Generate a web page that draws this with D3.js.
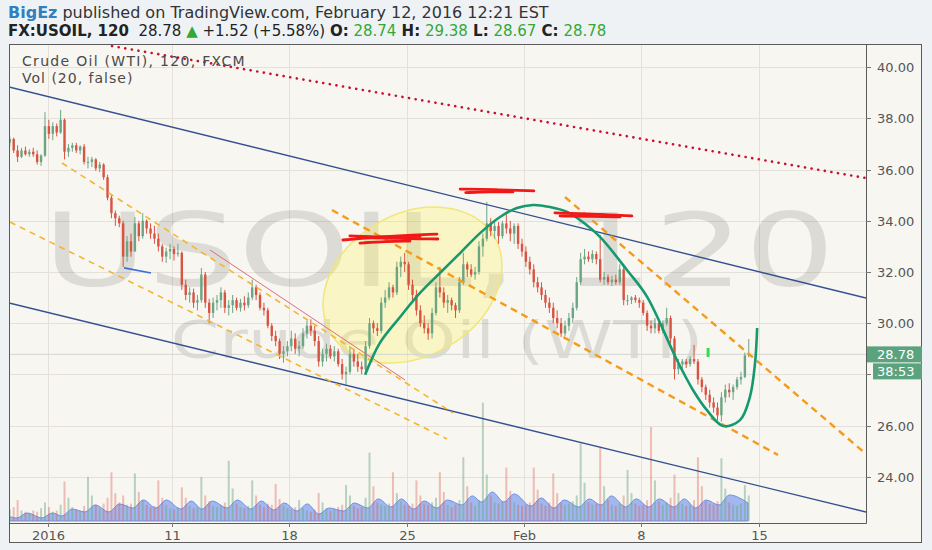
<!DOCTYPE html>
<html>
<head>
<meta charset="utf-8">
<title>Crude Oil (WTI), 120, FXCM</title>
<script src="https://cdn.jsdelivr.net/npm/d3@7"></script>
<style>
  body { margin: 0; background: #eef2f5; }
  svg { display: block; font-family: "DejaVu Sans", Verdana, sans-serif; }
</style>
</head>
<body>
<script>
// ---- data ----
// candles: [high, low, close], open = close of the bar before
var firstOpen = 37.05;
var startDay = -1.7, barsPerDay = 6;

var wk0 = [[37.3,36.9,37.2],[37.25,36.65,36.75],[36.95,36.3,36.5],[36.85,36.45,36.75],[36.9,36.55,36.6],[36.8,36.5,36.7],
  [36.85,36.5,36.6],[36.75,36.2,36.3],[36.6,36.15,36.55],[38.25,36.5,37.7],[37.95,37.2,37.4],[37.85,37.15,37.7]];
var wk1 = [[37.8,37.3,37.45],[38.33,37.4,37.95],[38.0,36.4,36.7],[37.0,36.5,36.85],[37.05,36.7,36.95],[37.05,36.65,36.75],
  [36.95,36.6,36.9],[37.0,36.2,36.3],[36.5,36.05,36.3],[36.5,36.1,36.4],[36.45,35.95,36.05],[36.3,35.9,36.2],
  [36.25,35.6,35.7],[35.8,34.8,34.9],[35.0,34.1,34.3],[34.4,33.8,34.1],[34.2,33.75,33.9],[34.0,32.2,32.6],
  [33.4,32.4,33.2],[33.5,32.6,32.8],[34.15,32.8,33.9],[34.0,33.2,33.4],[34.3,33.3,34.0],[34.05,33.5,33.7],
  [33.9,33.3,33.5],[33.8,33.1,33.3],[33.5,32.8,33.0],[33.1,32.4,32.6],[32.95,32.35,32.8],[33.1,32.5,32.9]];
var wk2 = [[33.0,32.45,32.7],[33.1,32.6,32.75],[32.8,31.3,31.5],[31.7,30.9,31.1],[31.4,30.8,31.2],[31.35,30.6,30.8],
  [31.1,30.5,30.9],[32.16,30.8,31.9],[32.0,30.6,30.8],[30.95,30.0,30.4],[31.0,30.2,30.8],[31.1,30.5,30.9],
  [31.4,30.6,31.2],[31.3,30.4,30.6],[30.9,30.3,30.7],[31.1,30.4,30.9],[31.0,30.5,30.6],[30.95,30.45,30.8],
  [31.05,30.5,30.7],[31.2,30.6,31.0],[31.7,30.9,31.4],[31.5,30.9,31.1],[31.2,30.5,30.6],[30.8,30.3,30.5],
  [30.6,29.8,29.9],[30.0,29.3,29.5],[29.7,29.1,29.3],[29.4,28.6,28.8],[29.1,28.45,28.9],[29.3,28.7,29.1]];
var wk3 = [[29.7,28.9,29.4],[29.6,28.8,29.0],[29.3,28.7,29.1],[29.8,29.0,29.6],[30.1,29.4,29.9],[30.15,29.5,29.7],
  [29.9,29.1,29.3],[29.5,28.3,28.5],[29.0,28.3,28.8],[29.2,28.5,29.0],[29.15,28.6,28.7],[29.1,28.5,28.9],
  [29.0,28.3,28.4],[28.6,27.8,28.0],[28.3,27.6,28.1],[29.1,28.0,28.8],[29.0,28.3,28.5],[28.8,28.1,28.3],
  [28.5,28.0,28.2],[29.3,28.1,29.1],[30.2,29.0,30.0],[30.1,29.6,29.8],[30.0,29.5,29.7],[31.0,29.6,30.8],
  [31.3,30.6,31.0],[31.6,30.9,31.4],[31.5,31.0,31.2],[32.4,31.1,32.2],[32.6,31.8,32.4],[32.75,32.0,32.3]];
var wk4 = [[32.4,31.3,31.5],[31.7,30.9,31.1],[31.3,30.3,30.5],[30.7,29.85,30.0],[30.3,29.6,29.8],[30.0,29.35,29.6],
  [30.6,29.4,30.4],[31.6,30.3,31.4],[32.2,31.0,31.2],[31.4,30.6,30.8],[31.1,30.4,30.9],[31.0,30.5,30.7],
  [30.8,30.2,30.5],[31.8,30.4,31.6],[32.75,31.5,32.3],[32.4,31.8,32.1],[32.3,31.8,31.9],[32.2,31.7,32.0],
  [33.2,31.9,33.0],[33.5,32.6,33.3],[34.74,33.2,33.9],[34.1,33.4,33.6],[34.0,33.3,33.8],[33.95,33.1,33.4],
  [34.0,33.3,33.9],[34.35,33.5,33.7],[34.0,33.2,33.5],[33.9,33.1,33.8],[33.9,32.9,33.1],[33.3,32.6,32.8]];
var wk5 = [[33.0,32.2,32.4],[32.6,31.9,32.1],[32.3,31.4,31.6],[31.8,31.2,31.4],[31.6,30.9,31.1],[31.3,30.6,30.8],
  [31.0,30.4,30.6],[30.8,30.0,30.2],[30.5,29.8,30.0],[30.2,29.46,29.6],[30.1,29.5,29.9],[30.4,29.7,30.2],
  [30.8,30.0,30.6],[31.8,30.5,31.6],[32.75,31.5,32.5],[32.9,32.3,32.6],[32.8,32.4,32.5],[32.85,32.35,32.7],
  [32.8,32.3,32.5],[33.45,31.6,31.7],[32.0,31.5,31.8],[31.9,31.5,31.6],[31.85,31.45,31.7],[31.9,31.5,31.6],
  [32.3,31.5,32.1],[32.2,30.7,30.9],[31.1,30.7,30.9],[31.05,30.75,31.0],[31.1,30.8,30.9],[31.0,30.6,30.8]];
var wk6 = [[30.9,30.3,30.4],[30.5,29.7,29.9],[30.1,29.6,29.8],[30.2,29.6,30.0],[30.1,29.6,29.7],[30.1,29.6,30.0],
  [30.6,29.9,30.2],[30.3,29.2,29.4],[29.5,27.8,28.2],[28.6,28.0,28.4],[28.6,28.2,28.5],[28.6,28.25,28.4],
  [28.7,28.3,28.6],[29.15,28.4,28.5],[28.6,27.6,27.8],[27.9,27.3,27.5],[27.6,27.0,27.2],[27.4,26.7,26.9],
  [27.1,26.5,26.7],[26.9,26.2,26.4],[27.3,26.15,27.1],[27.6,26.9,27.4],[27.65,27.1,27.3],[27.6,27.0,27.5],
  [27.9,27.4,27.8],[28.1,27.6,27.9],[28.85,27.85,28.74],[29.38,28.67,28.78]];

// volume per bar, same order
var vol0 = [10,12,18,9,8,7,9,8,11,16,12,8];
var vol1 = [9,14,34,20,12,10,9,13,38,22,14,11,15,20,42,24,16,22,14,15,41,25,18,14,12,13,35,20,14,11];
var vol2 = [10,12,29,20,13,11,12,38,22,17,13,12,14,16,52,28,15,12,11,13,35,22,14,12,15,14,32,19,13,11];
var vol3 = [10,12,18,11,9,8,10,24,16,11,9,10,12,14,31,22,13,11,12,20,59,30,16,14,13,15,42,24,17,14];
var vol4 = [13,15,35,22,15,14,16,20,42,25,14,12,14,18,55,30,16,13,18,102,40,22,16,15,17,46,26,16,14,13];
var vol5 = [14,16,46,27,15,13,16,41,24,16,14,15,17,22,67,33,16,14,15,63,30,18,14,13,15,22,44,24,15,13];
var vol6 = [14,18,81,35,17,14,16,20,40,24,15,13,14,18,55,30,17,15,14,17,54,28,16,14,13,15,31,22];

// Vol (20) average, the blue band
var maDays = [-1.7,-1.32,-0.87,-0.25,0.2,0.6,1.05,1.58,2.03,2.61,3.06,3.63,4.08,4.61,5.06,5.67,6.12,6.57,7.02,7.64,
  8.09,8.66,9.11,9.64,10.09,10.62,11.07,11.55,12.0,12.62,13.07,13.64,14.09,14.63,15.08,15.6,16.05,16.59,17.04,17.65,
  18.1,18.5,18.95,19.44,19.89,20.59,21.04,21.57,22.02,22.64,23.09,23.58,24.03,24.64,25.09,25.62,26.07,26.69,27.14,27.62,
  28.07,28.61,29.06,29.85];
var maVals = [4.3,2.6,6.9,2.6,6.9,4.3,10.3,7.8,13.8,7.8,14.7,11.2,18.1,11.2,18.1,10.3,17.2,10.3,17.2,11.2,
  18.1,10.3,17.2,9.5,15.5,8.6,14.7,6.0,11.2,8.6,15.5,11.2,19.0,12.1,19.0,10.3,17.2,11.2,18.1,13.8,
  21.6,16.4,25.0,16.4,23.3,12.9,19.8,11.2,18.1,12.1,19.0,13.8,21.6,12.1,19.0,12.1,19.0,12.1,19.0,11.2,
  18.1,13.8,22.4,15.5];

var timeTickDays = [0, 5.3, 10.3, 15.3, 20.3, 25.3, 30.3];
var timeTickLabels = ["2016", "11", "18", "25", "Feb", "8", "15"];
var priceTicks = [24, 26, 28, 30, 32, 34, 36, 38, 40];

// hand drawings, in [day, price]
var redDotted = [[2.741,40.83],[34.88,35.67]];
var channelTop = [[-1.65,39.23],[34.88,30.98]];
var channelBottom = [[-1.65,30.79],[34.88,22.62]];
var blueStub = [[3.252,32.16],[4.403,31.96]];
var trendA1 = [[0.61,36.26],[17.276,26.49]];
var trendA2 = [[-1.607,33.95],[17.02,25.47]];
var thinRed = [[6.918,32.86],[15.23,27.78]];
var trendB1 = [[12.118,34.42],[31.13,24.85]];
var trendB2 = [[22.05,34.93],[34.88,24.89]];
var arcPts = [[13.53,27.98],[14.16,29.23],[15.02,30.24],[15.87,31.18],[16.72,31.96],[17.58,32.74],[18.43,33.52],
  [19.28,34.15],[20.0,34.5],[20.69,34.62],[21.41,34.54],[22.14,34.35],[22.69,34.03],[23.54,33.37],[24.69,32.08],
  [25.55,31.03],[26.82,28.56],[27.51,27.38],[28.1,26.6],[28.79,25.98],[29.51,26.21],[29.93,27.11],[30.15,28.44],[30.24,29.81]];
var scribbles = [
  [[12.58,33.25],[14.6,33.4],[16.59,33.48]], [[13.18,33.37],[15.0,33.3],[16.63,33.29]],
  [[13.31,33.13],[14.4,33.2],[15.44,33.21]], [[12.88,33.41],[14.3,33.36],[15.87,33.39]],
  [[17.58,35.24],[19.1,35.22],[20.72,35.17]], [[17.82,35.1],[18.8,35.14],[19.83,35.13]],
  [[21.62,34.31],[23.3,34.27],[24.9,34.19]], [[21.84,34.19],[23.1,34.18],[24.4,34.15]]];
var ellipseCenter = [15.55, 31.49];
var greenTick = [28.15, 28.68, 29.03];

// ---- build ----
var W = 932, H = 550;
var pane = {l: 9, t: 44, r: 866, b: 523};
var up = "#6ba583", down = "#d75442";

var weeks = [wk0, wk1, wk2, wk3, wk4, wk5, wk6];
var vols = [vol0, vol1, vol2, vol3, vol4, vol5, vol6];
var bars = [], prev = firstOpen, k = 0;
weeks.forEach(function(wk, w) {
  wk.forEach(function(b, i) {
    bars.push({d: startDay + (k + 0.5) / barsPerDay, o: prev, h: b[0], l: b[1], c: b[2], v: vols[w][i]});
    prev = b[2];
    k++;
  });
});
var last = bars[bars.length - 1];

var x = d3.scaleLinear().domain([-1.65, 34.88]).range([pane.l, pane.r]);
var y = d3.scaleLinear().domain([22.19, 40.91]).range([pane.b, pane.t]);
var yVol = d3.scaleLinear().domain([0, 100]).range([521, 405]);

var svg = d3.select("body").append("svg").attr("width", W).attr("height", H);

svg.append("defs").append("clipPath").attr("id", "clip")
  .append("rect").attr("x", pane.l).attr("y", pane.t)
  .attr("width", pane.r - pane.l).attr("height", pane.b - pane.t);

svg.append("rect").attr("width", W).attr("height", H).attr("fill", "#eef2f5");
svg.append("rect").attr("x", pane.l).attr("y", pane.t).attr("width", 922 - pane.l).attr("height", 543 - pane.t)
  .attr("fill", "#f8f6f1");

// grid
var grid = svg.append("g").attr("stroke", "#e5e1da").attr("stroke-width", 1);
grid.selectAll("line.h").data(priceTicks).enter().append("line")
  .attr("x1", pane.l).attr("x2", pane.r)
  .attr("y1", function(d) { return Math.round(y(d)) + 0.5; })
  .attr("y2", function(d) { return Math.round(y(d)) + 0.5; });
grid.selectAll("line.v").data(timeTickDays).enter().append("line")
  .attr("y1", pane.t).attr("y2", pane.b)
  .attr("x1", function(d) { return Math.round(x(d)) + 0.5; })
  .attr("x2", function(d) { return Math.round(x(d)) + 0.5; });

var plot = svg.append("g").attr("clip-path", "url(#clip)");

// watermark
plot.append("text").attr("transform", "translate(439,286) scale(1.4,1)")
  .attr("text-anchor", "middle").attr("font-size", 102)
  .attr("fill", "#000").attr("fill-opacity", 0.11).text("USOIL, 120");
plot.append("text").attr("transform", "translate(437,358) scale(1.34,1)")
  .attr("text-anchor", "middle").attr("font-size", 52)
  .attr("fill", "#000").attr("fill-opacity", 0.11).text("Crude Oil (WTI)");

// volume average band
var maArea = d3.area().curve(d3.curveMonotoneX)
  .x(function(d, i) { return x(maDays[i]); })
  .y0(yVol(0)).y1(function(d) { return yVol(d); });
plot.append("path").datum(maVals).attr("d", maArea)
  .attr("fill", "#7c9cf0").attr("fill-opacity", 0.7)
  .attr("stroke", "#6f8fe8").attr("stroke-width", 1);

// volume bars
plot.selectAll("rect.vol").data(bars).enter().append("rect")
  .attr("x", function(d) { return x(d.d) - 1; }).attr("width", 2)
  .attr("y", function(d) { return yVol(d.v); })
  .attr("height", function(d) { return yVol(0) - yVol(d.v); })
  .attr("fill", function(d) { return d.c >= d.o ? "rgba(107,165,131,0.45)" : "rgba(215,84,66,0.35)"; });

// yellow ellipse
plot.append("ellipse")
  .attr("transform", "translate(" + x(ellipseCenter[0]) + "," + y(ellipseCenter[1]) + ") rotate(-30.5)")
  .attr("rx", 95).attr("ry", 71)
  .attr("fill", "#fff35c").attr("fill-opacity", 0.3)
  .attr("stroke", "#f1e678").attr("stroke-width", 1.5);

// last price line
plot.append("line").attr("x1", pane.l).attr("x2", pane.r)
  .attr("y1", y(last.c)).attr("y2", y(last.c))
  .attr("stroke", "#d3d6d0").attr("stroke-width", 1);

// candles
plot.selectAll("line.wick").data(bars).enter().append("line")
  .attr("x1", function(d) { return x(d.d); }).attr("x2", function(d) { return x(d.d); })
  .attr("y1", function(d) { return y(d.h); }).attr("y2", function(d) { return y(d.l); })
  .attr("stroke", function(d) { return d.c >= d.o ? up : down; }).attr("stroke-width", 1);
plot.selectAll("rect.body").data(bars).enter().append("rect")
  .attr("x", function(d) { return x(d.d) - 1.2; }).attr("width", 2.4)
  .attr("y", function(d) { return y(Math.max(d.o, d.c)); })
  .attr("height", function(d) { return Math.max(1, Math.abs(y(d.o) - y(d.c))); })
  .attr("fill", function(d) { return d.c >= d.o ? up : down; });

// drawings
var line = d3.line().x(function(p) { return x(p[0]); }).y(function(p) { return y(p[1]); });
function draw(pts, color, width, dash) {
  var p = plot.append("path").attr("d", line(pts)).attr("fill", "none")
    .attr("stroke", color).attr("stroke-width", width);
  if (dash) p.attr("stroke-dasharray", dash);
  return p;
}
draw(channelTop, "#34508f", 1.4);
draw(channelBottom, "#34508f", 1.4);
draw(blueStub, "#3c6fd6", 1.6);
draw(trendA1, "#f4b630", 1.6, "6,5");
draw(trendA2, "#f4b630", 1.6, "6,5");
draw(thinRed, "#e06a7a", 1);
draw(trendB1, "#f59b1a", 2.4, "7,5");
draw(trendB2, "#f59b1a", 2.4, "7,5");
draw(redDotted, "#c8102e", 2.6, "0.1,6.6").attr("stroke-linecap", "round");

plot.append("path").attr("d", line.curve(d3.curveCatmullRom.alpha(0.5))(arcPts))
  .attr("fill", "none").attr("stroke", "#16996f").attr("stroke-width", 2.6);
line.curve(d3.curveLinear);

scribbles.forEach(function(s) {
  plot.append("path").attr("d", line.curve(d3.curveBasis)(s)).attr("fill", "none")
    .attr("stroke", "#f21818").attr("stroke-width", 2.8).attr("stroke-linecap", "round");
});
line.curve(d3.curveLinear);

plot.append("rect").attr("x", x(greenTick[0]) - 1.5).attr("width", 3)
  .attr("y", y(greenTick[2])).attr("height", y(greenTick[1]) - y(greenTick[2]))
  .attr("fill", "#2fe04a");

// frame
svg.append("rect").attr("x", pane.l + 0.5).attr("y", pane.t + 0.5).attr("width", 922 - pane.l - 1)
  .attr("height", 543 - pane.t - 1).attr("fill", "none").attr("stroke", "#5b5b5b");
svg.append("line").attr("x1", pane.r + 0.5).attr("x2", pane.r + 0.5).attr("y1", pane.t).attr("y2", pane.b + 0.5)
  .attr("stroke", "#5b5b5b");
svg.append("line").attr("x1", pane.l).attr("x2", pane.r + 0.5).attr("y1", pane.b + 0.5).attr("y2", pane.b + 0.5)
  .attr("stroke", "#5b5b5b");

// price axis
var ly = y(last.c);
var pa = svg.append("g").attr("font-size", 13).attr("fill", "#555");
priceTicks.forEach(function(p) {
  var yy = Math.round(y(p)) + 0.5;
  pa.append("line").attr("x1", pane.r).attr("x2", pane.r + 5).attr("y1", yy).attr("y2", yy).attr("stroke", "#777");
  // labels under the last-price boxes are hidden, as on the chart
  if (yy > ly - 14 && yy < ly + 30) return;
  pa.append("text").attr("x", 877).attr("y", yy + 4.5).text(p.toFixed(2));
});
pa.append("rect").attr("x", pane.r + 1).attr("y", ly - 8).attr("width", 922 - pane.r - 1).attr("height", 16)
  .attr("fill", "#5aa37e");
pa.append("text").attr("x", 877).attr("y", ly + 4.5).attr("fill", "#fff").text(last.c.toFixed(2));
pa.append("rect").attr("x", 873).attr("y", ly + 9).attr("width", 49).attr("height", 16).attr("fill", "#5aa37e");
pa.append("text").attr("x", 877).attr("y", ly + 21.5).attr("fill", "#fff").text("38:53");

// time axis
var ta = svg.append("g").attr("font-size", 13).attr("fill", "#555").attr("text-anchor", "middle");
timeTickDays.forEach(function(d, i) {
  var xx = Math.round(x(d)) + 0.5;
  ta.append("line").attr("x1", xx).attr("x2", xx).attr("y1", pane.b).attr("y2", pane.b + 4).attr("stroke", "#777");
  ta.append("text").attr("x", xx).attr("y", 539.5).text(timeTickLabels[i]);
});

// legend inside pane
svg.append("text").attr("x", 22).attr("y", 66).attr("font-size", 14).attr("letter-spacing", 1.3)
  .attr("fill", "#4a4a4a").text("Crude Oil (WTI), 120, FXCM");
svg.append("text").attr("x", 22).attr("y", 83).attr("font-size", 14).attr("letter-spacing", 1.0)
  .attr("fill", "#4a4a4a").text("Vol (20, false)");

// header
var h1 = svg.append("text").attr("x", 8).attr("y", 17.5).attr("font-size", 16).attr("fill", "#333");
h1.append("tspan").attr("font-weight", "bold").attr("fill", "#2f7fc1").text("BigEz");
h1.append("tspan").text(" published on TradingView.com, February 12, 2016 12:21 EST");

var green = "#34a835";
var h2 = svg.append("text").attr("x", 8).attr("y", 35.5).attr("font-size", 15).attr("fill", "#222")
  .attr("style", "white-space:pre");
var parts = [
  ["FX:USOIL, 120", true, null], ["  " + last.c.toFixed(2) + " ", false, null], ["\u25B2", false, green],
  [" +1.52 (+5.58%) ", false, null], ["O:", true, null], [" " + last.o.toFixed(2), false, green],
  [" H:", true, null], [" " + last.h.toFixed(2), false, green], [" L:", true, null],
  [" " + last.l.toFixed(2), false, green], [" C:", true, null], [" " + last.c.toFixed(2), false, green]];
parts.forEach(function(p) {
  var t = h2.append("tspan").text(p[0]);
  if (p[1]) t.attr("font-weight", "bold");
  if (p[2]) t.attr("fill", p[2]);
});
</script>
</body>
</html>
